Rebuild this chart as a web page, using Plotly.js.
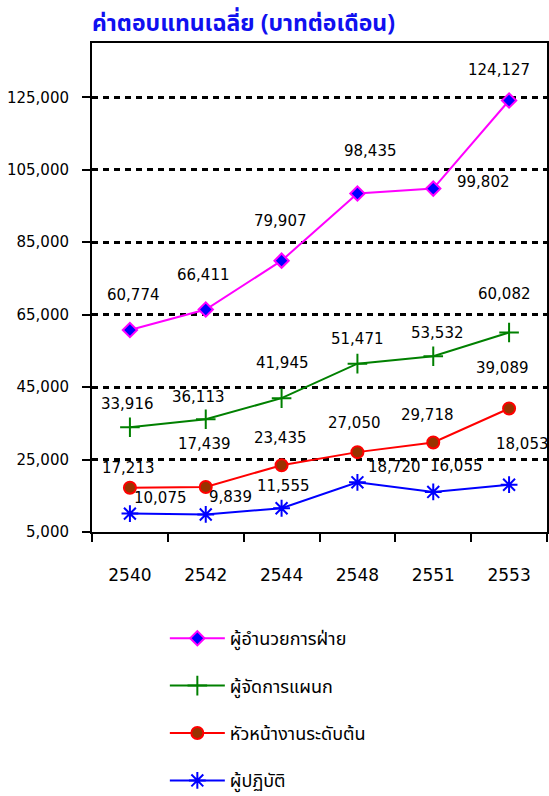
<!DOCTYPE html>
<html>
<head>
<meta charset="utf-8">
<script src="https://cdn.plot.ly/plotly-3.0.1.min.js"></script>
<style>html,body{margin:0;padding:0;background:#fff;}#chart{width:549px;height:796px;}</style>
</head>
<body>
<div id="chart"></div>
<script>
// ---- data ----
const years = ["2540", "2542", "2544", "2548", "2551", "2553"];
const seriesNames = ["ผู้อำนวยการฝ่าย", "ผู้จัดการแผนก", "หัวหน้างานระดับต้น", "ผู้ปฏิบัติ"];
const director   = [60774, 66411, 79907, 98435, 99802, 124127];
const manager    = [33916, 36113, 41945, 51471, 53532, 60082];
const supervisor = [17213, 17439, 23435, 27050, 29718, 39089];
const operative  = [10075, 9839, 11555, 18720, 16055, 18053];
const yTicks = [5000, 25000, 45000, 65000, 85000, 105000, 125000];
const chartTitle = "ค่าตอบแทนเฉลี่ย (บาทต่อเดือน)";

// ---- styles (label offsets in pixels: [dx, dy up]) ----
const labelOffsets = [
  [[4,35],[-2,35],[-1,40],[13,43],[50,7],[-10,31]],
  [[-2,23],[-7,22],[1,35],[0,25],[4,23],[-5,38]],
  [[-1,20],[-1,43],[-1,27],[-3,29],[-6,27],[-7,41]],
  [[31,16],[25,17],[2,22],[37,15],[23,26],[13,41]]
];
const numFont = "DejaVu Sans, Verdana, sans-serif";
const thaiFont = "Tahoma, Noto Sans Thai, Loma, Garuda, DejaVu Sans, sans-serif";

const allSeries = [director, manager, supervisor, operative];
const traceStyles = [
  {line:{color:"#FF00FF", width:2}, marker:{symbol:"diamond", size:11, color:"#0000FF", line:{color:"#FF00FF", width:2}}},
  {line:{color:"#008000", width:2}, marker:{symbol:"cross-thin-open", size:14, color:"#008000", line:{color:"#008000", width:2}}},
  {line:{color:"#FF0000", width:2}, marker:{symbol:"circle", size:12, color:"#993300", line:{color:"#FF0000", width:2}}},
  {line:{color:"#0000FF", width:2}, marker:{symbol:"asterisk-open", size:14, color:"#0000FF", line:{color:"#0000FF", width:2}}}
];

const traces = allSeries.map((vals, i) => Object.assign({
  type: "scatter", mode: "lines+markers", x: years, y: vals,
  name: seriesNames[i], legendgroup: "g" + i, cliponaxis: false
}, traceStyles[i]));

const annotations = [];
allSeries.forEach((vals, i) => {
  vals.forEach((v, j) => {
    annotations.push({
      x: j, y: v, xref: "x", yref: "y",
      text: v.toLocaleString("en-US"), showarrow: false,
      xshift: labelOffsets[i][j][0], yshift: labelOffsets[i][j][1],
      font: {family: numFont, size: 15, color: "#000"}
    });
  });
});

const layout = {
  width: 549, height: 796,
  margin: {l: 92, r: 2, t: 43, b: 264, autoexpand: false},
  paper_bgcolor: "#fff", plot_bgcolor: "#fff",
  title: {
    text: chartTitle, xref: "container", x: 92/549, xanchor: "left",
    yref: "container", y: 1 - 23/796, yanchor: "middle",
    font: {family: thaiFont, size: 23, color: "#1010F0", weight: "bold"}
  },
  xaxis: {
    type: "category", range: [-0.5, 5.5], tickson: "boundaries",
    ticks: "outside", ticklen: 8, tickwidth: 2, tickcolor: "#000",
    showline: true, linewidth: 2, linecolor: "#000", mirror: true,
    showgrid: false, zeroline: false, fixedrange: true,
    ticklabelstandoff: 27,
    tickfont: {family: numFont, size: 17, color: "#000"}
  },
  yaxis: {
    range: [5000, 140000], tickvals: yTicks, tickformat: ",",
    ticks: "outside", ticklen: 8, tickwidth: 2, tickcolor: "#000",
    showline: true, linewidth: 2, linecolor: "#000", mirror: true,
    showgrid: true, gridcolor: "#000", gridwidth: 3, griddash: "6px,5px",
    zeroline: false, fixedrange: true,
    ticklabelstandoff: 10,
    tickfont: {family: numFont, size: 15, color: "#000"}
  },
  showlegend: true,
  legend: {
    x: (165 - 92) / 456, xanchor: "left", y: (532 - 620) / 489, yanchor: "top",
    orientation: "v", tracegroupgap: 21, itemwidth: 55,
    font: {family: thaiFont, size: 18, color: "#000"},
    bgcolor: "rgba(0,0,0,0)"
  },
  annotations: annotations
};

Plotly.newPlot("chart", traces, layout, {displayModeBar: false, staticPlot: true});
</script>
</body>
</html>
